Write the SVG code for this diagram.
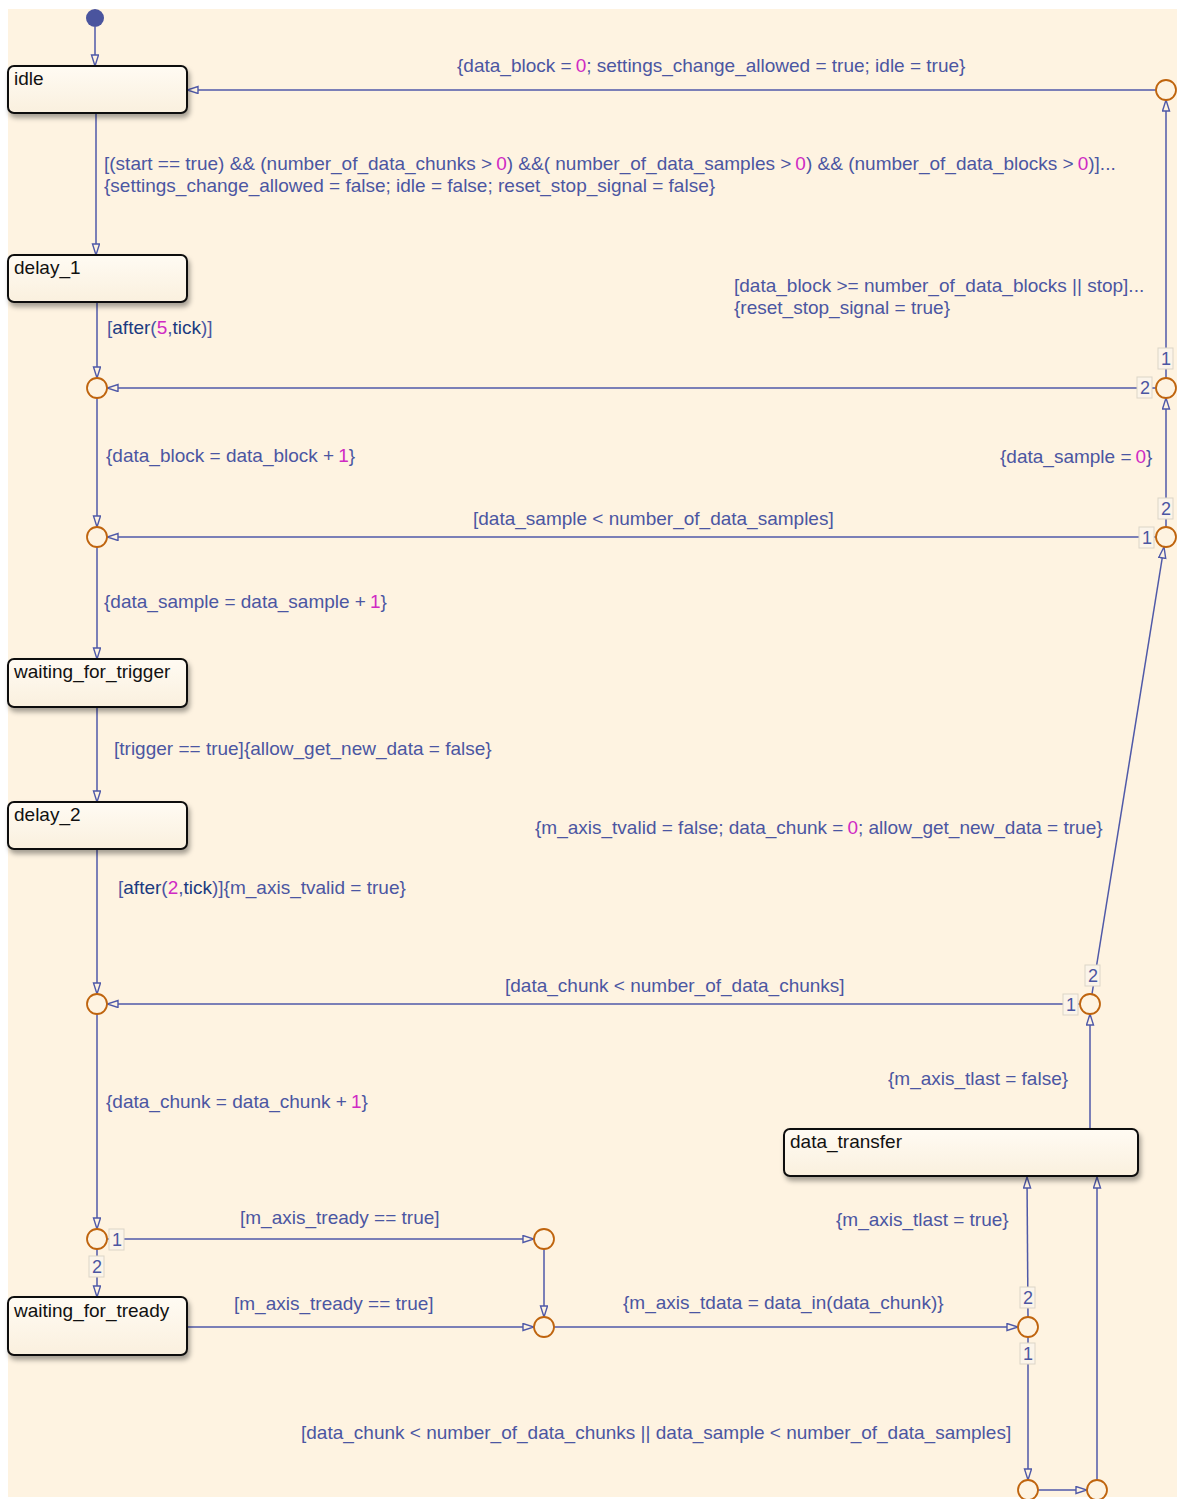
<svg xmlns="http://www.w3.org/2000/svg" width="1177" height="1499" viewBox="0 0 1177 1499">
<defs>
<style>
.t{font-family:"Liberation Sans",Arial,sans-serif;font-size:19px;fill:#4B56A2}
.n{fill:#D02AC4}
.k{fill:#1B3A80}
.s{font-family:"Liberation Sans",Arial,sans-serif;font-size:19px;fill:#111}
.c{fill:none;stroke:#4F59A8;stroke-width:1.5}
.j{fill:#FEF3E1;stroke:#BF640E;stroke-width:1.8}
.box{stroke:#111;stroke-width:2;fill:url(#sg);filter:url(#sh)}
.ob{fill:#FBF4E9;stroke:#DCD5C8;stroke-width:1}
.o{font-family:"Liberation Sans",Arial,sans-serif;font-size:18px;fill:#4B56A2;text-anchor:middle}
</style>
<linearGradient id="sg" x1="0" y1="0" x2="0" y2="1">
<stop offset="0" stop-color="#FFFBF3"/>
<stop offset="1" stop-color="#FAF0DE"/>
</linearGradient>
<filter id="sh" x="-10%" y="-20%" width="130%" height="160%">
<feDropShadow dx="2" dy="4" stdDeviation="2.5" flood-color="#000" flood-opacity="0.35"/>
</filter>
<marker id="a" markerUnits="userSpaceOnUse" markerWidth="14" markerHeight="10" refX="12" refY="4" orient="auto">
<path d="M1,0.5 L12,4 L1,7.5 z" fill="#FEF3E1" stroke="#4F59A8" stroke-width="1.4"/>
</marker>
</defs>
<rect x="8" y="9" width="1169" height="1488" fill="#FEF3E1"/>

<g id="connectors">
<path class="c" d="M95,27 L95,66" marker-end="url(#a)"/>
<path class="c" d="M96,113 L96,255" marker-end="url(#a)"/>
<path class="c" d="M97,302 L97,378" marker-end="url(#a)"/>
<path class="c" d="M97,398 L97,527" marker-end="url(#a)"/>
<path class="c" d="M97,547 L97,659" marker-end="url(#a)"/>
<path class="c" d="M97,707 L97,802" marker-end="url(#a)"/>
<path class="c" d="M97,849 L97,994" marker-end="url(#a)"/>
<path class="c" d="M97,1014 L97,1229" marker-end="url(#a)"/>
<path class="c" d="M97,1249 L97,1297" marker-end="url(#a)"/>
<path class="c" d="M107,1239 L534,1239" marker-end="url(#a)"/>
<path class="c" d="M544,1249 L544,1317" marker-end="url(#a)"/>
<path class="c" d="M187,1327 L534,1327" marker-end="url(#a)"/>
<path class="c" d="M554,1327 L1018,1327" marker-end="url(#a)"/>
<path class="c" d="M1028,1317 L1027,1177" marker-end="url(#a)"/>
<path class="c" d="M1028,1337 L1028,1480" marker-end="url(#a)"/>
<path class="c" d="M1038,1490 L1087,1490" marker-end="url(#a)"/>
<path class="c" d="M1097,1480 L1097,1177" marker-end="url(#a)"/>
<path class="c" d="M1090,1129 L1090,1014" marker-end="url(#a)"/>
<path class="c" d="M1080,1004 L107,1004" marker-end="url(#a)"/>
<path class="c" d="M1092,994 L1164,547" marker-end="url(#a)"/>
<path class="c" d="M1156,537 L107,537" marker-end="url(#a)"/>
<path class="c" d="M1166,527 L1166,398" marker-end="url(#a)"/>
<path class="c" d="M1156,388 L107,388" marker-end="url(#a)"/>
<path class="c" d="M1166,378 L1166,100" marker-end="url(#a)"/>
<path class="c" d="M1156,90 L187,90" marker-end="url(#a)"/>
</g>

<g id="order-labels">
<rect class="ob" x="1158" y="348" width="15" height="21"/><text class="o" x="1166" y="365">1</text>
<rect class="ob" x="1137" y="377" width="15" height="21"/><text class="o" x="1145" y="394">2</text>
<rect class="ob" x="1158" y="498" width="15" height="21"/><text class="o" x="1166" y="515">2</text>
<rect class="ob" x="1139" y="527" width="15" height="21"/><text class="o" x="1147" y="544">1</text>
<rect class="ob" x="1085" y="965" width="15" height="21"/><text class="o" x="1093" y="982">2</text>
<rect class="ob" x="1063" y="994" width="15" height="21"/><text class="o" x="1071" y="1011">1</text>
<rect class="ob" x="109" y="1229" width="15" height="21"/><text class="o" x="117" y="1246">1</text>
<rect class="ob" x="89" y="1256" width="15" height="21"/><text class="o" x="97" y="1273">2</text>
<rect class="ob" x="1020" y="1287" width="15" height="21"/><text class="o" x="1028" y="1304">2</text>
<rect class="ob" x="1020" y="1343" width="15" height="21"/><text class="o" x="1028" y="1360">1</text>
</g>

<g id="labels">
<text class="t" x="457" y="72">{data_block =<tspan class="n" dx="4">0</tspan>; settings_change_allowed = true; idle = true}</text>
<text class="t" x="104" y="170">[(start == true) &amp;&amp; (number_of_data_chunks &gt;<tspan class="n" dx="4">0</tspan>) &amp;&amp;( number_of_data_samples &gt;<tspan class="n" dx="4">0</tspan>) &amp;&amp; (number_of_data_blocks &gt;<tspan class="n" dx="4">0</tspan>)]...</text>
<text class="t" x="104" y="192">{settings_change_allowed = false; idle = false; reset_stop_signal = false}</text>
<text class="t" x="734" y="292">[data_block &gt;= number_of_data_blocks || stop]...</text>
<text class="t" x="734" y="314">{reset_stop_signal = true}</text>
<text class="t" x="107" y="334">[<tspan class="k">after</tspan>(<tspan class="n">5</tspan>,<tspan class="k">tick</tspan>)]</text>
<text class="t" x="106" y="462">{data_block = data_block +<tspan class="n" dx="4">1</tspan>}</text>
<text class="t" x="1000" y="463">{data_sample =<tspan class="n" dx="4">0</tspan>}</text>
<text class="t" x="473" y="525">[data_sample &lt; number_of_data_samples]</text>
<text class="t" x="104" y="608">{data_sample = data_sample +<tspan class="n" dx="4">1</tspan>}</text>
<text class="t" x="114" y="755">[trigger == true]{allow_get_new_data = false}</text>
<text class="t" x="535" y="834">{m_axis_tvalid = false; data_chunk =<tspan class="n" dx="4">0</tspan>; allow_get_new_data = true}</text>
<text class="t" x="118" y="894">[<tspan class="k">after</tspan>(<tspan class="n">2</tspan>,<tspan class="k">tick</tspan>)]{m_axis_tvalid = true}</text>
<text class="t" x="505" y="992">[data_chunk &lt; number_of_data_chunks]</text>
<text class="t" x="106" y="1108">{data_chunk = data_chunk +<tspan class="n" dx="4">1</tspan>}</text>
<text class="t" x="888" y="1085">{m_axis_tlast = false}</text>
<text class="t" x="240" y="1224">[m_axis_tready == true]</text>
<text class="t" x="836" y="1226">{m_axis_tlast = true}</text>
<text class="t" x="234" y="1310">[m_axis_tready == true]</text>
<text class="t" x="623" y="1309">{m_axis_tdata = data_in(data_chunk)}</text>
<text class="t" x="301" y="1439">[data_chunk &lt; number_of_data_chunks || data_sample &lt; number_of_data_samples]</text>
</g>

<g id="initial"><circle cx="95" cy="18" r="9" fill="#4A549E"/></g>

<g id="idle"><rect class="box" x="8" y="66" width="179" height="47" rx="6"/><text class="s" x="14" y="85">idle</text></g>
<g id="delay_1"><rect class="box" x="8" y="255" width="179" height="47" rx="6"/><text class="s" x="14" y="274">delay_1</text></g>
<g id="waiting_for_trigger"><rect class="box" x="8" y="659" width="179" height="48" rx="6"/><text class="s" x="14" y="678">waiting_for_trigger</text></g>
<g id="delay_2"><rect class="box" x="8" y="802" width="179" height="47" rx="6"/><text class="s" x="14" y="821">delay_2</text></g>
<g id="waiting_for_tready"><rect class="box" x="8" y="1297" width="179" height="58" rx="6"/><text class="s" x="14" y="1317">waiting_for_tready</text></g>
<g id="data_transfer"><rect class="box" x="784" y="1129" width="354" height="47" rx="6"/><text class="s" x="790" y="1148">data_transfer</text></g>

<g id="junctions">
<circle id="j13" class="j" cx="1166" cy="90" r="10"/>
<circle id="j1" class="j" cx="97" cy="388" r="10"/>
<circle id="j12" class="j" cx="1166" cy="388" r="10"/>
<circle id="j2" class="j" cx="97" cy="537" r="10"/>
<circle id="j11" class="j" cx="1166" cy="537" r="10"/>
<circle id="j3" class="j" cx="97" cy="1004" r="10"/>
<circle id="j10" class="j" cx="1090" cy="1004" r="10"/>
<circle id="j4" class="j" cx="97" cy="1239" r="10"/>
<circle id="j5" class="j" cx="544" cy="1239" r="10"/>
<circle id="j6" class="j" cx="544" cy="1327" r="10"/>
<circle id="j7" class="j" cx="1028" cy="1327" r="10"/>
<circle id="j8" class="j" cx="1028" cy="1490" r="10"/>
<circle id="j9" class="j" cx="1097" cy="1490" r="10"/>
</g>
</svg>
